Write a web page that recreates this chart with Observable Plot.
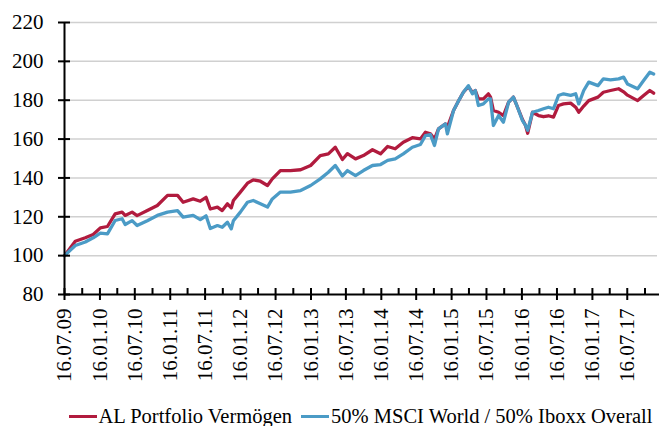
<!DOCTYPE html>
<html>
<head>
<meta charset="utf-8">
<script src="https://cdn.jsdelivr.net/npm/d3@7"></script>
<script src="https://cdn.jsdelivr.net/npm/@observablehq/plot@0.6"></script>
<style>
  html, body { margin: 0; padding: 0; background: white; }
  #chart svg { display: block; }
  #legend { display: flex; justify-content: center; align-items: center; gap: 9px; height: 40px;
    padding-left: 64px; padding-right: 2px; box-sizing: border-box; width: 659px;
    font-family: "Liberation Serif", serif; font-size: 20.5px; color: black; }
  #legend .item { display: flex; align-items: center; white-space: nowrap; }
  #legend .sw { display: inline-block; width: 28px; height: 3px; margin-right: 2px; }
</style>
</head>
<body>
<div id="chart"></div>
<div id="legend"></div>
<script>
const seriesNames = ["AL Portfolio Vermögen", "50% MSCI World / 50% Iboxx Overall"];
const seriesColors = ["#b11b3e", "#4b9bc6"];

const dates = ["2009-07-16","2009-09-10","2009-11-01","2009-12-12","2010-01-18","2010-02-24","2010-04-05","2010-05-11","2010-05-27","2010-07-02",
"2010-07-28","2010-09-19","2010-11-10","2011-01-02","2011-02-23","2011-03-24","2011-05-15","2011-06-21","2011-07-21","2011-08-12",
"2011-09-18","2011-10-13","2011-11-09","2011-11-29","2011-12-10","2012-01-15","2012-02-21","2012-03-22","2012-04-28","2012-06-04",
"2012-06-29","2012-08-10","2012-10-01","2012-11-23","2013-01-14","2013-03-05","2013-04-16","2013-05-22","2013-06-28","2013-07-24",
"2013-09-04","2013-10-15","2013-12-01","2014-01-12","2014-02-18","2014-03-29","2014-05-10","2014-06-26","2014-08-07","2014-09-02",
"2014-09-28","2014-10-19","2014-11-09","2014-12-15","2014-12-25","2015-01-26","2015-02-22","2015-03-18","2015-04-13","2015-05-04",
"2015-05-19","2015-06-04","2015-06-30","2015-07-26","2015-08-06","2015-08-21","2015-09-17","2015-10-12","2015-11-08","2015-12-03",
"2015-12-24","2016-01-19","2016-02-04","2016-02-15","2016-03-11","2016-04-11","2016-05-07","2016-06-02","2016-06-28","2016-07-24",
"2016-08-19","2016-09-25","2016-10-21","2016-11-06","2016-12-02","2016-12-28","2017-02-14","2017-03-14","2017-04-20","2017-06-01",
"2017-06-27","2017-07-17","2017-09-08","2017-10-09","2017-11-10","2017-11-30"];

const alPortfolio = [100,107.4,109.2,110.9,114.3,115,121.5,122.4,120.7,122.4,
120.6,123.2,125.8,131,131,127.5,129.2,128,130,124,
125,123.2,126.7,124.6,128.4,132.7,137.3,139,138.3,136.1,
139.5,143.8,143.8,144.2,146.4,151.5,152.4,155.8,149.5,152.5,
149.8,151.5,154.5,152.4,156.2,155,158.4,160.7,160.1,163.5,
162.7,160,165.3,167.8,166,174.7,179.8,184.1,187,184,
185,180.7,180.7,183.3,181.6,174.7,173.8,172.1,179,181.6,
176.4,170,167,163,173.8,172.1,171.5,172,171.3,177.3,
178.1,178.5,176.4,173.8,177,179.8,181.6,184.1,185,185.9,
184.3,182.6,179.8,182.4,185,183.6];

const benchmark = [100,105.2,107,109.2,111.6,111.2,118.1,119,116,118,
115.5,118,120.7,122.4,123.2,119.8,120.7,118.5,120.5,114,
115.5,114.6,117.2,113.8,118,122.4,127.5,128.4,126.7,125,
129.2,132.7,132.7,133.5,136.1,139.5,142.9,146.4,141,143.8,
141.2,143.8,146.4,146.9,149,149.8,152.4,155.8,157.2,161.8,
162.3,156.7,165.3,167.8,162.7,174.7,179.8,184.1,187.5,183.3,
185,177.3,178.1,180.7,180.7,167,172.1,168.7,179,181.6,
176.4,169.5,167,164.5,173.8,174.7,175.6,176.4,175.6,182.4,
183.3,182.5,183.3,178.1,185,189.3,187.5,191,190.5,191,
191.9,188.4,185.9,190.1,194.4,193.5];

const yTicks = [80,100,120,140,160,180,200,220];
const majorTickDates = ["2009-07-16","2010-01-16","2010-07-16","2011-01-16","2011-07-16","2012-01-16","2012-07-16","2013-01-16","2013-07-16",
"2014-01-16","2014-07-16","2015-01-16","2015-07-16","2016-01-16","2016-07-16","2017-01-16","2017-07-16"];
const minorTickDates = ["2009-10-16","2010-04-16","2010-10-16","2011-04-16","2011-10-16","2012-04-16","2012-10-16","2013-04-16","2013-10-16",
"2014-04-16","2014-10-16","2015-04-16","2015-10-16","2016-04-16","2016-10-16","2017-04-16","2017-10-16"];
const xDomain = ["2009-07-16","2017-12-20"];

const rows = dates.map((d, i) => ({date: new Date(d), al: alPortfolio[i], bench: benchmark[i]}));
const majors = majorTickDates.map(d => new Date(d));
const minors = minorTickDates.map(d => new Date(d));

const W = 659, H = 396, mL = 64, mR = 2, mT = 22, mB = 102;
const plotW = W - mL - mR, plotH = H - mT - mB;

const chart = Plot.plot({
  width: W, height: H,
  marginLeft: mL, marginRight: mR, marginTop: mT, marginBottom: mB,
  style: {fontFamily: "'Liberation Serif', serif", fontSize: "21px", color: "black", background: "white"},
  x: {type: "utc", domain: xDomain.map(d => new Date(d))},
  y: {domain: [80, 220]},
  marks: [
    Plot.gridY({ticks: yTicks.filter(v => v > 80), stroke: "#d0d0d0", strokeOpacity: 1, strokeWidth: 1.5}),
    Plot.lineY(rows, {x: "date", y: "al", stroke: seriesColors[0], strokeWidth: 3.3}),
    Plot.lineY(rows, {x: "date", y: "bench", stroke: seriesColors[1], strokeWidth: 3.3}),
    Plot.ruleX([new Date(xDomain[0])], {stroke: "black", strokeWidth: 2}),
    Plot.ruleY([80], {stroke: "black", strokeWidth: 2, insetRight: -2}),
    Plot.tickY(yTicks, {y: d => d, insetLeft: -6, insetRight: plotW - 6, stroke: "black", strokeWidth: 2}),
    Plot.tickX(majors, {x: d => d, insetTop: plotH - 6, insetBottom: -6, stroke: "black", strokeWidth: 2}),
    Plot.tickX(minors, {x: d => d, insetTop: plotH - 6, insetBottom: 0, stroke: "black", strokeWidth: 2}),
    Plot.axisY({ticks: yTicks, tickSize: 0, tickPadding: 21, fontSize: 21, fontFamily: "'Liberation Serif', serif", label: null}),
    Plot.axisX({ticks: majors, tickSize: 0, tickPadding: 14, tickRotate: -90, fontSize: 21, fontFamily: "'Liberation Serif', serif",
      tickFormat: d3.utcFormat("%d.%m.%y"), label: null})
  ]
});
document.getElementById("chart").appendChild(chart);

const legend = document.getElementById("legend");
seriesNames.forEach((name, i) => {
  const item = document.createElement("span");
  item.className = "item";
  const sw = document.createElement("i");
  sw.className = "sw";
  sw.style.background = seriesColors[i];
  item.appendChild(sw);
  item.appendChild(document.createTextNode(name));
  legend.appendChild(item);
});
</script>
</body>
</html>
